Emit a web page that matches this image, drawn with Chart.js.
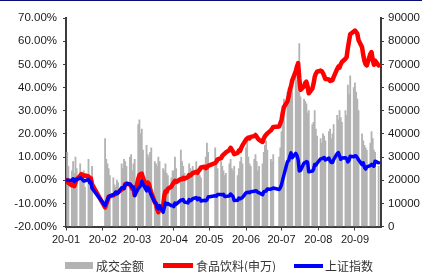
<!DOCTYPE html>
<html>
<head>
<meta charset="utf-8">
<script src="https://cdn.jsdelivr.net/npm/chart.js@4/dist/chart.umd.min.js"></script>
<style>
  html,body{margin:0;padding:0;background:#fff}
  #wrap{position:relative;width:422px;height:272px;overflow:hidden}
  #linea_top{position:absolute;left:0;top:0;width:422px;height:1px;background:#0c0c78}
  .lg{position:absolute;top:258px;height:16px;line-height:16px;font-size:12px;font-family:"Noto Sans CJK SC";color:#333;white-space:nowrap}
  .mk{position:absolute}
</style>
</head>
<body>
<div id="wrap">
  <canvas id="grafica" width="422" height="272"></canvas>
  <div id="linea_top"></div>
  <div class="mk" style="left:65px;top:262px;width:28px;height:7px;background:#b3b3b3"></div>
  <div class="lg" style="left:96px">成交金额</div>
  <div class="mk" style="left:163px;top:263px;width:30px;height:5px;background:#ff0000"></div>
  <div class="lg" style="left:196px">食品饮料(申万)</div>
  <div class="mk" style="left:294px;top:263.5px;width:29px;height:4px;background:#0000ff"></div>
  <div class="lg" style="left:325px">上证指数</div>
</div>
<script>
// dias de negociacion 2020
const fechas = [
  '01-02','01-03','01-06','01-07','01-08','01-09','01-10','01-13','01-14','01-15','01-16','01-17','01-20','01-21','01-22','01-23',
  '02-03','02-04','02-05','02-06','02-07','02-10','02-11','02-12','02-13','02-14','02-17','02-18','02-19','02-20','02-21','02-24','02-25','02-26','02-27','02-28',
  '03-02','03-03','03-04','03-05','03-06','03-09','03-10','03-11','03-12','03-13','03-16','03-17','03-18','03-19','03-20','03-23','03-24','03-25','03-26','03-27','03-30','03-31',
  '04-01','04-02','04-03','04-07','04-08','04-09','04-10','04-13','04-14','04-15','04-16','04-17','04-20','04-21','04-22','04-23','04-24','04-27','04-28','04-29','04-30',
  '05-06','05-07','05-08','05-11','05-12','05-13','05-14','05-15','05-18','05-19','05-20','05-21','05-22','05-25','05-26','05-27','05-28','05-29',
  '06-01','06-02','06-03','06-04','06-05','06-08','06-09','06-10','06-11','06-12','06-15','06-16','06-17','06-18','06-19','06-22','06-23','06-24','06-29','06-30',
  '07-01','07-02','07-03','07-06','07-07','07-08','07-09','07-10','07-13','07-14','07-15','07-16','07-17','07-20','07-21','07-22','07-23','07-24','07-27','07-28','07-29','07-30','07-31',
  '08-03','08-04','08-05','08-06','08-07','08-10','08-11','08-12','08-13','08-14','08-17','08-18','08-19','08-20','08-21','08-24','08-25','08-26','08-27','08-28','08-31',
  '09-01','09-02','09-03','09-04','09-07','09-08','09-09','09-10','09-11','09-14','09-15','09-16','09-17','09-18','09-21'
]
// 成交金额
const montos = [
  32000,26000,24000,28000,23000,30000,25000,27000,21000,19000,24000,17000,29000,22000,20000,26000,
  38000,29000,27000,25000,22000,21000,18000,17000,20000,19000,27000,25000,29000,28000,26000,30000,31000,24000,27000,29000,
  44000,46000,40000,42000,33000,35000,31000,30000,32000,34000,28000,27000,26000,30000,28000,25000,24000,27000,23000,22000,21000,24000,
  24000,30000,25000,33000,28000,26000,23000,22000,27000,25000,24000,26000,28000,23000,25000,22000,21000,26000,30000,36000,32000,
  34000,27000,25000,28000,26000,24000,22000,23000,27000,29000,25000,24000,26000,22000,25000,28000,30000,27000,
  34000,37000,30000,27000,26000,29000,31000,28000,24000,26000,27000,32000,35000,37000,33000,29000,28000,31000,30000,34000,
  41000,52000,55000,58000,57000,54000,62000,60000,65000,63000,58000,79000,56000,55000,54000,53000,49000,50000,44000,45000,50000,42000,39000,
  38000,36000,40000,39000,37000,41000,42000,38000,40000,44000,48000,46000,50000,47000,45000,50000,48000,61000,57000,65000,60000,
  62000,58000,55000,50000,40000,37000,35000,34000,33000,36000,41000,38000,33000,32000,26000
]
// 食品饮料(申万) %
const alimentos = [
  0.0,-1.2,-2.2,-1.8,-2.6,-1.0,0.4,1.9,2.6,2.3,1.8,2.0,1.6,0.2,0.8,-1.8,
  -11.8,-10.3,-8.8,-7.2,-7.0,-6.5,-6.2,-5.6,-5.7,-5.2,-4.0,-3.7,-3.2,-1.8,-1.4,-1.9,-2.6,-3.8,-3.3,-6.5,
  0.5,2.2,2.6,2.8,1.0,-3.0,-1.0,-1.6,-3.6,-5.5,-9.5,-10.5,-12.5,-13.8,-12.5,-11.0,-6.8,-4.8,-5.0,-3.8,-2.8,-1.8,
  -1.0,-0.3,-0.8,0.5,0.4,1.0,0.6,1.4,2.2,2.0,2.5,3.0,3.6,3.2,4.0,4.6,5.5,5.8,5.2,5.6,6.2,
  7.4,8.0,9.0,9.5,10.5,11.0,11.5,12.0,13.0,14.0,13.2,12.4,11.2,11.8,12.8,12.6,14.0,15.0,
  17.5,18.0,18.4,18.0,18.7,19.0,19.5,18.8,18.0,17.4,16.5,18.0,19.0,19.6,20.2,21.5,22.2,23.0,23.2,24.6,
  26.0,29.0,31.5,34.0,36.0,39.0,40.5,43.0,47.0,49.0,50.5,44.0,39.0,40.5,42.0,42.5,40.5,37.5,39.5,41.5,44.5,46.0,46.8,
  47.3,47.0,46.2,45.0,43.7,43.5,42.8,43.0,43.2,44.5,48.0,49.0,48.6,50.0,51.0,52.4,53.2,57.0,60.0,63.0,64.2,
  64.6,64.0,63.2,60.5,57.4,54.0,51.5,50.0,49.5,54.5,55.3,52.0,49.8,51.6,49.5
]
// 上证指数 %
const shanghai = [
  0.0,0.0,-0.1,0.6,-0.6,0.3,0.2,1.0,0.7,0.2,-0.4,-0.3,0.3,-1.1,-0.8,-3.5,
  -11.0,-9.8,-8.7,-7.1,-6.8,-6.3,-5.9,-5.1,-5.8,-5.5,-3.3,-3.3,-3.6,-1.8,-1.5,-1.7,-2.3,-3.2,-3.0,-6.6,
  -3.7,-3.0,-2.4,-0.4,-1.6,-4.6,-2.9,-3.8,-5.2,-6.4,-9.6,-9.9,-11.6,-12.4,-11.0,-13.8,-11.8,-9.8,-10.4,-10.1,-11.0,-10.9,
  -11.4,-9.9,-10.4,-8.6,-8.7,-8.4,-9.4,-9.8,-8.4,-8.9,-8.6,-8.0,-7.5,-8.4,-7.8,-8.0,-9.0,-8.7,-8.9,-8.5,-7.3,
  -6.7,-6.9,-6.2,-6.2,-6.3,-6.1,-7.0,-7.0,-6.8,-6.0,-6.5,-7.0,-8.8,-8.7,-7.7,-8.1,-7.7,-7.5,
  -5.5,-5.3,-5.2,-5.4,-5.0,-4.8,-4.6,-4.7,-5.3,-5.4,-6.3,-5.0,-4.8,-4.7,-3.8,-3.9,-3.7,-3.4,-4.0,-3.3,
  -1.9,0.2,2.2,8.0,8.4,10.3,11.8,9.7,11.6,10.7,8.9,4.0,4.2,7.4,7.6,8.0,7.8,3.6,3.9,4.6,6.8,6.5,7.3,
  9.2,9.3,9.5,9.8,8.7,9.5,8.3,7.6,7.6,8.9,11.5,11.9,10.5,9.0,9.6,9.7,9.3,7.9,8.6,10.3,10.1,
  10.5,10.4,9.7,8.8,6.7,7.5,5.5,4.8,5.7,6.3,6.8,6.4,6.0,8.2,7.5
]
// etiquetas del eje x
const inicioMes = ['01-01','02-01','03-01','04-01','05-01','06-01','07-01','08-01','09-01']
const etiquetasMes = ['20-01','20-02','20-03','20-04','20-05','20-06','20-07','20-08','20-09']

window.addEventListener('load',()=>{
    const aDia = s => {
        const [m,d] = s.split('-').map(Number)
        return (Date.UTC(2020,m-1,d) - Date.UTC(2020,0,1)) / 86400000
    }
    const xs = fechas.map(aDia)
    const pares = arr => arr.map((v,i)=>({x:xs[i], y:v}))
    const fuente = {family:'"Liberation Sans", Arial', size:11.5}
    const gris = '#3c3c3c'

    new Chart(document.getElementById('grafica').getContext('2d'),{
        type:'bar',
        data:{
            datasets:[
                {
                    type:'line', label:'上证指数', data:pares(shanghai), yAxisID:'y',
                    borderColor:'#0000ff', borderWidth:3.5, pointRadius:0, tension:0,
                    borderJoinStyle:'round', borderCapStyle:'round', order:1
                },
                {
                    type:'line', label:'食品饮料(申万)', data:pares(alimentos), yAxisID:'y',
                    borderColor:'#ff0000', borderWidth:4.5, pointRadius:0, tension:0,
                    borderJoinStyle:'round', borderCapStyle:'round', order:2
                },
                {
                    type:'bar', label:'成交金额', data:pares(montos), yAxisID:'y1',
                    backgroundColor:'#b3b3b3', barPercentage:1, categoryPercentage:1, order:3
                }
            ]
        },
        options:{
            responsive:false,
            animation:false,
            layout:{padding:{top:18, bottom:20, left:0, right:0}},
            plugins:{legend:{display:false}, tooltip:{enabled:false}},
            scales:{
                x:{
                    type:'linear', min:0, max:266, offset:false,
                    afterBuildTicks: s => { s.ticks = inicioMes.map(d=>({value:aDia(d)})) },
                    ticks:{callback:(v,i)=>etiquetasMes[i], autoSkip:false, maxRotation:0, color:'#1a1a1a',
                        font:{family:'"Liberation Sans", Arial', size:11}, padding:3},
                    grid:{drawOnChartArea:false, tickLength:4, color:gris, offset:false},
                    border:{color:gris, width:2},
                    afterFit: s => { s.height = 25.5 }
                },
                y:{
                    position:'left', min:-20, max:70,
                    ticks:{stepSize:10, callback:v=>v.toFixed(2)+'%', color:'#1a1a1a', font:fuente, padding:6},
                    grid:{drawOnChartArea:false, tickLength:3, color:gris},
                    border:{color:gris, width:2},
                    afterFit: s => { s.width = 66 }
                },
                y1:{
                    position:'right', min:0, max:90000,
                    ticks:{stepSize:10000, callback:v=>String(v), color:'#1a1a1a', font:fuente, padding:4},
                    grid:{drawOnChartArea:false, tickLength:3, color:gris},
                    border:{color:gris, width:2},
                    afterFit: s => { s.width = 41 }
                }
            }
        }
    })
})
</script>
</body>
</html>
